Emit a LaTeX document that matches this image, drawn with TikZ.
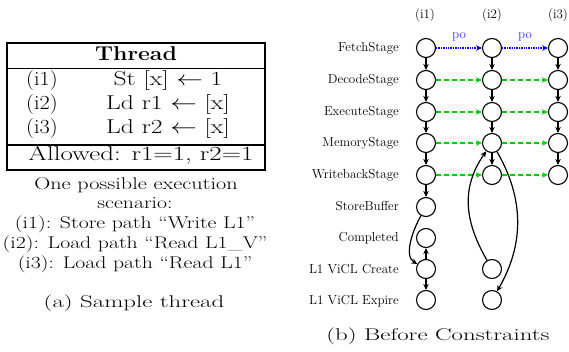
\documentclass[tikz,border=0pt]{standalone}
\usetikzlibrary{arrows.meta}
\begin{document}
\begin{tikzpicture}[x=1pt,y=-1pt,
  st/.style={circle,draw,line width=1.1pt,minimum size=19pt,inner sep=0pt},
  lbl/.style={anchor=base east,font=\fontsize{13}{15}\selectfont,inner sep=0pt},
  hdr/.style={anchor=base,font=\fontsize{13}{15}\selectfont,inner sep=0pt},
  tbl/.style={anchor=base,font=\fontsize{20}{23}\selectfont,inner sep=0pt,xscale=1.28},
  txt/.style={anchor=base,font=\fontsize{17}{19}\selectfont,inner sep=0pt,xscale=1.28},
  captxt/.style={anchor=base,font=\fontsize{17}{19}\selectfont,inner sep=0pt,xscale=1.46},
  flow/.style={-{Stealth[length=6pt,width=5.5pt]},line width=1.2pt},
  rf/.style={-{Stealth[length=6pt,width=5.5pt]},line width=1.3pt,draw={rgb,255:red,0;green,205;blue,0},dash pattern=on 4.5pt off 3.5pt},
  pof/.style={-{Stealth[length=6pt,width=5.5pt]},line width=1.3pt,draw={rgb,255:red,0;green,0;blue,255},dash pattern=on 1.3pt off 1.1pt}]
\useasboundingbox (0,0) rectangle (569,352);

% ---- sample thread table ----
\draw[line width=1.1pt] (7,43) rectangle (265,170);
\draw[line width=1.7pt] (7,68.5) -- (265,68.5);
\draw[line width=1.1pt] (7,145) -- (265,145);
\node[tbl,xscale=0.9] (thr) at (136,61) {\bfseries Thread};
\node[tbl,xscale=0.87] (r1a) at (42,86) {(i1)};
\node[tbl] (r1b) at (168,86) {St [x] $\leftarrow$ 1};
\node[tbl,xscale=0.87] (r2a) at (42,110) {(i2)};
\node[tbl] (r2b) at (168,110) {Ld r1 $\leftarrow$ [x]};
\node[tbl,xscale=0.87] (r3a) at (42,134) {(i3)};
\node[tbl] (r3b) at (168,134) {Ld r2 $\leftarrow$ [x]};
\node[tbl,xscale=1.05] (allow) at (141,161) {Allowed: r1=1, r2=1};

\node[txt,xscale=1.02] (s1) at (136,190) {One possible execution};
\node[txt] (s2) at (135,209) {scenario:};
\node[txt] (s3) at (135,229) {(i1): Store path “Write L1”};
\node[txt] (s4) at (135,248) {(i2): Load path “Read L1\_V”};
\node[txt] (s5) at (135,268) {(i3): Load path “Read L1”};
\node[captxt] (capa) at (134,307) {(a) Sample thread};

% ---- pipeline graph ----
\foreach \n/\t/\y in {f/FetchStage/48, d/DecodeStage/80, x/ExecuteStage/112,
    m/MemoryStage/143, w/WritebackStage/175, sb/StoreBuffer/207,
    c/Completed/238, cr/L1 ViCL Create/269, ex/L1 ViCL Expire/300}
  \node[lbl] (l\n) at (399,\y+4) {\t};

\node[hdr] (h1) at (425,19) {(i1)};
\node[hdr] (h2) at (492,19) {(i2)};
\node[hdr] (h3) at (558,19) {(i3)};

\foreach \n/\y in {f/48, d/80, x/112, m/143, w/175, sb/207, c/238, cr/269, ex/300}
  \node[st] (a\n) at (426,\y) {};
\foreach \n/\y in {f/48, d/80, x/112, m/143, w/175, cr/269, ex/300}
  \node[st] (b\n) at (492,\y) {};
\foreach \n/\y in {f/48, d/80, x/112, m/143, w/175}
  \node[st] (c\n) at (558,\y) {};

% program order along the fetch stage
\draw[pof] (af) -- (bf);
\draw[pof] (bf) -- (cf);
\node[hdr,text={rgb,255:red,50;green,50;blue,255}] (po1) at (459,39) {po};
\node[hdr,text={rgb,255:red,50;green,50;blue,255}] (po2) at (525,39) {po};

% in-order stage edges
\foreach \s in {d,x,m,w} {
  \draw[rf] (a\s) -- (b\s);
  \draw[rf] (b\s) -- (c\s);
}

% pipeline stage order within each instruction
\foreach \p/\q in {f/d, d/x, x/m, m/w, w/sb} \draw[flow] (a\p) -- (a\q);
\foreach \p/\q in {f/d, d/x, x/m, m/w} \draw[flow] (b\p) -- (b\q);
\foreach \p/\q in {f/d, d/x, x/m, m/w} \draw[flow] (c\p) -- (c\q);

\draw[flow] (asb) to[out=240,in=150,looseness=0.85] (acr);
\draw[flow] (acr) -- (ac);
\draw[flow] (acr) -- (aex);
\draw[flow] (bcr) to[out=120,in=235,looseness=1.05] (bm);
\draw[flow] (bm) to[out=-60,in=60] (bex);

\node[captxt] (capb) at (438,340) {(b) Before Constraints};
\end{tikzpicture}
\end{document}
